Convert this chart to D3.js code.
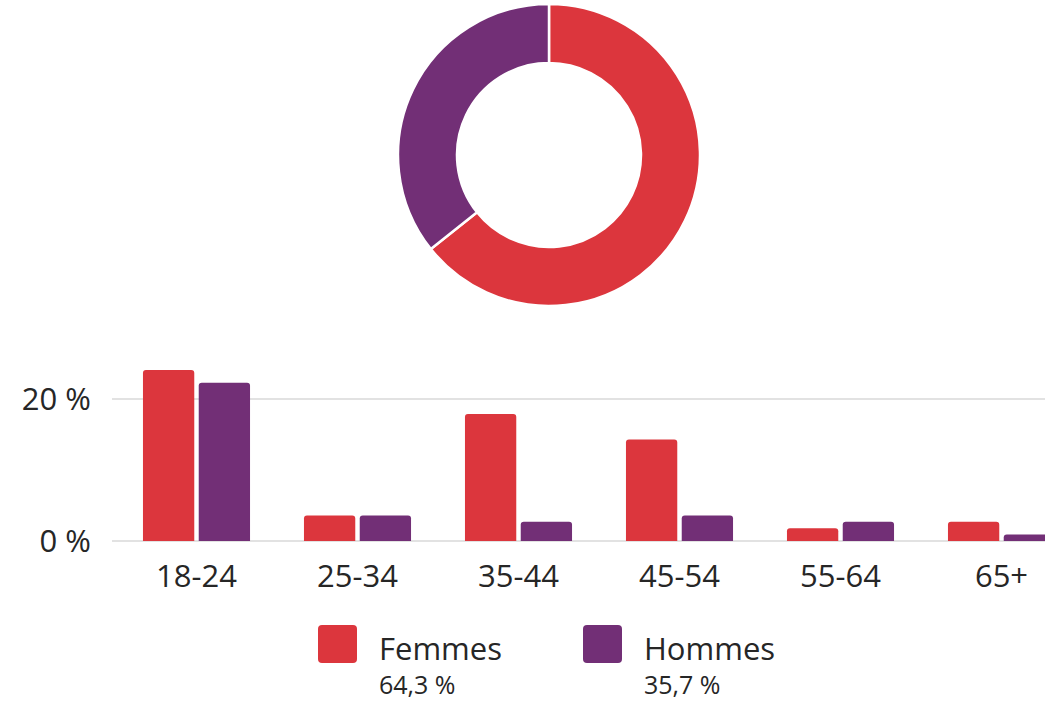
<!DOCTYPE html>
<html>
<head>
<meta charset="utf-8">
<script src="https://cdn.jsdelivr.net/npm/d3@7"></script>
<style>
  html, body { margin: 0; padding: 0; background: #fff; }
  svg { display: block; overflow: hidden; font-family: "Open Sans", "Noto Sans", sans-serif; }
</style>
</head>
<body>
<div id="chart"></div>
<script>
// age groups and share of all respondents (%)
var ageGroups = ["18-24", "25-34", "35-44", "45-54", "55-64", "65+"];
var seriesNames = ["Femmes", "Hommes"];
var femmes = [24.1, 3.6, 17.9, 14.3, 1.8, 2.7];
var hommes = [22.3, 3.6, 2.7, 3.6, 2.7, 0.9];
var totals = [64.3, 35.7];
var yTicks = [0, 20];

var colors = {Femmes: "#dc363d", Hommes: "#722f76"};
var textColor = "#262626";

var width = 1045,
    height = 701;

var svg = d3.select("#chart")
    .append("svg")
    .attr("width", width)
    .attr("height", height);

// ---- donut ----
var pie = d3.pie().sort(null).value(function(d) { return d.value; });
var arc = d3.arc().innerRadius(92).outerRadius(151);

var shares = seriesNames.map(function(name, i) { return {name: name, value: totals[i]}; });

svg.append("g")
    .attr("transform", "translate(549,155)")
  .selectAll("path")
  .data(pie(shares))
  .join("path")
    .attr("d", arc)
    .attr("fill", function(d) { return colors[d.data.name]; })
    .attr("stroke", "#fff")
    .attr("stroke-width", 2.5);

// ---- grouped bars ----
var x0 = d3.scaleBand()
    .domain(ageGroups)
    .range([116, 1082])
    .paddingInner(0.335)
    .paddingOuter(0.1675);

var x1 = d3.scaleBand()
    .domain(seriesNames)
    .range([0, x0.bandwidth()])
    .paddingInner(0.08);

var y = d3.scaleLinear()
    .domain([0, 20])
    .range([541, 399]);

// gridlines
svg.append("g")
  .selectAll("line")
  .data(yTicks)
  .join("line")
    .attr("x1", 112)
    .attr("x2", width)
    .attr("y1", function(d) { return y(d); })
    .attr("y2", function(d) { return y(d); })
    .attr("stroke", "#e2e2e2")
    .attr("stroke-width", 2);

// y labels
svg.append("g")
  .selectAll("text")
  .data(yTicks)
  .join("text")
    .attr("x", 91)
    .attr("y", function(d) { return y(d); })
    .attr("dy", "0.36em")
    .attr("text-anchor", "end")
    .attr("font-size", 31)
    .attr("fill", textColor)
    .text(function(d) { return d + " %"; });

// rounded-top bar path
function barPath(x, yTop, w, yBase) {
  var r = Math.min(3, (yBase - yTop) / 2);
  return "M" + x + "," + yBase +
    "V" + (yTop + r) +
    "Q" + x + "," + yTop + " " + (x + r) + "," + yTop +
    "H" + (x + w - r) +
    "Q" + (x + w) + "," + yTop + " " + (x + w) + "," + (yTop + r) +
    "V" + yBase + "Z";
}

var rows = ageGroups.map(function(g, i) {
  return {group: g, values: [
    {name: "Femmes", value: femmes[i]},
    {name: "Hommes", value: hommes[i]}
  ]};
});

svg.append("g")
  .selectAll("g")
  .data(rows)
  .join("g")
    .attr("transform", function(d) { return "translate(" + x0(d.group) + ",0)"; })
  .selectAll("path")
  .data(function(d) { return d.values; })
  .join("path")
    .attr("d", function(d) { return barPath(x1(d.name), y(d.value), x1.bandwidth(), y(0)); })
    .attr("fill", function(d) { return colors[d.name]; });

// x labels
svg.append("g")
  .selectAll("text")
  .data(ageGroups)
  .join("text")
    .attr("x", function(d) { return x0(d) + x0.bandwidth() / 2; })
    .attr("y", 587)
    .attr("text-anchor", "middle")
    .attr("font-size", 31)
    .attr("fill", textColor)
    .text(function(d) { return d; });

// ---- legend ----
var legend = svg.append("g")
  .selectAll("g")
  .data(shares)
  .join("g")
    .attr("transform", function(d, i) { return "translate(" + (318 + i * 265) + ",625)"; });

legend.append("rect")
    .attr("width", 39)
    .attr("height", 38)
    .attr("rx", 4)
    .attr("fill", function(d) { return colors[d.name]; });

legend.append("text")
    .attr("x", 61)
    .attr("y", 35)
    .attr("font-size", 31)
    .attr("fill", textColor)
    .text(function(d) { return d.name; });

legend.append("text")
    .attr("x", 61)
    .attr("y", 69)
    .attr("font-size", 25)
    .attr("fill", textColor)
    .text(function(d) { return d3.format(".1f")(d.value).replace(".", ",") + " %"; });
</script>
</body>
</html>
